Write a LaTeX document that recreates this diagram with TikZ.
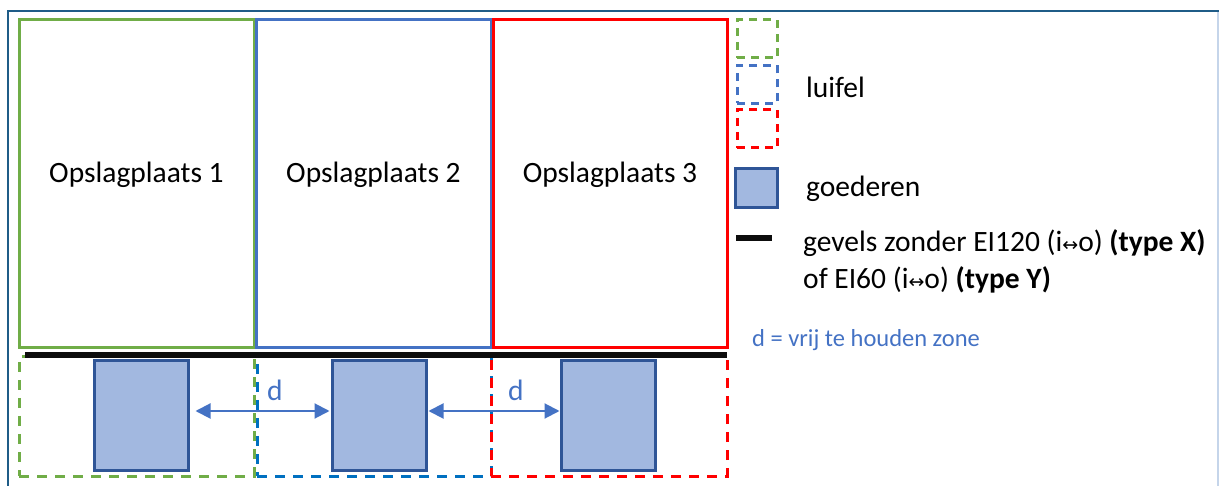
\documentclass[tikz,border=0pt]{standalone}
\usepackage{fontspec}
\setmainfont{Carlito}
\newfontfamily\arrowfont{DejaVu Sans}
\usetikzlibrary{arrows.meta,calc}
\definecolor{cgreen}{HTML}{70AD47}
\definecolor{cblue}{HTML}{4472C4}
\definecolor{cred}{HTML}{FF0000}
\definecolor{cdblue}{HTML}{0070C0}
\definecolor{cframe}{HTML}{1F5C87}
\definecolor{cframelight}{HTML}{C5D5EA}
\definecolor{gfill}{HTML}{A2B8E0}
\definecolor{gdraw}{HTML}{2F5597}
\newcommand{\lr}{{\arrowfont\fontsize{19}{19}\selectfont ↔}}
\begin{document}
\begin{tikzpicture}[x=1pt,y=-1pt,
  room/.style={draw, line width=3pt, minimum height=328pt, inner sep=0pt},
  luifelbox/.style={draw, line width=3pt, dash pattern=on 10pt off 8pt, minimum height=119pt, inner sep=0pt},
  legbox/.style={draw, line width=3pt, dash pattern=on 8pt off 6pt, minimum width=40pt, minimum height=38pt, inner sep=0pt},
  goods/.style={draw=gdraw, fill=gfill, line width=3pt, minimum width=94pt, minimum height=109pt, inner sep=0pt},
  txt/.style={anchor=base west, inner sep=0pt, font=\fontsize{29.5}{35}\selectfont},
  ctxt/.style={anchor=base, inner sep=0pt, font=\fontsize{29.5}{35}\selectfont},
  darr/.style={cblue, line width=2pt, {Triangle[length=15pt,width=15pt]}-{Triangle[length=15pt,width=15pt]}}
]
\useasboundingbox (0,0) rectangle (1219,486);
% frame
\draw[cframelight, line width=1.5pt] (1218,11) -- (1218,486);
\draw[cframe, line width=2.5pt] (8,486) -- (8,11) -- (1219,11);

% rooms
\node[room, draw=cgreen, minimum width=235pt] (r1) at (136.5,184) {};
\node[room, draw=cblue, minimum width=235pt] (r2) at (373.5,184) {};
\node[room, draw=cred, minimum width=234pt] (r3) at (610,184) {};
\node[ctxt] (t1) at (136.5,183) {Opslagplaats 1};
\node[ctxt] (t2) at (373.5,183) {Opslagplaats 2};
\node[ctxt] (t3) at (610,183) {Opslagplaats 3};

% luifels
\node[luifelbox, draw=cgreen, minimum width=235pt] (l1) at (136.5,416.5) {};
\node[luifelbox, draw=cdblue, minimum width=234pt] (l2) at (374,416.5) {};
\node[luifelbox, draw=cred, minimum width=236pt] (l3) at (609,416.5) {};

% facade bar
\coordinate (b1) at (25,355);
\coordinate (b2) at (727,355);
\draw[black!95, line width=6.5pt] (b1) -- (b2);

% goods
\node[goods] (g1) at (141,415.5) {};
\node[goods] (g2) at (379,415.5) {};
\node[goods] (g3) at (608,415.5) {};

\draw[darr] ($(g1.east)+(6,-4.5)$) -- ($(g2.west)+(-1,-4.5)$);
\draw[darr] ($(g2.east)+(1,-4.5)$) -- ($(g3.west)+(0,-4.5)$);
\node[txt, text=cblue] (d1) at (267,400) {d};
\node[txt, text=cblue] (d2) at (508,400) {d};

% legend
\node[legbox, draw=cgreen] (lg1) at (757,39) {};
\node[legbox, draw=cblue] (lg2) at (757,84.5) {};
\node[legbox, draw=cred] (lg3) at (757,129) {};
\node[txt] (luifel) at (806,98) {luifel};
\node[goods, minimum width=42pt, minimum height=39pt] (lgg) at (756,188.5) {};
\node[txt] (goed) at (806,197) {goederen};
\coordinate (lb1) at (736,238);
\coordinate (lb2) at (772,238);
\draw[black!95, line width=6pt] (lb1) -- (lb2);
\node[txt] (gev1) at (803,252) {gevels zonder EI120 (i\lr o) \textbf{(type X)}};
\node[txt] (gev2) at (803,289) {of EI60 (i\lr o) \textbf{(type Y)}};
\node[anchor=base west, inner sep=0pt, text=cblue, font=\fontsize{24.5}{29}\selectfont] (dz) at (752,347) {d = vrij te houden zone};
\end{tikzpicture}
\end{document}
